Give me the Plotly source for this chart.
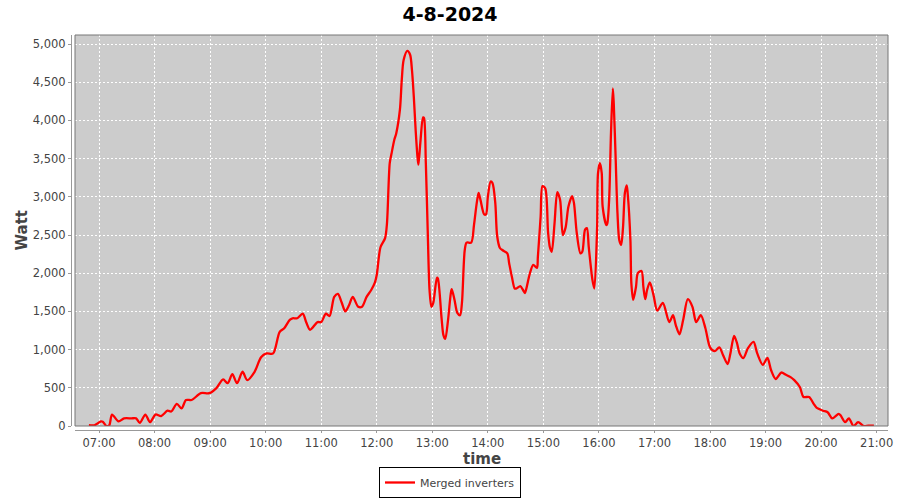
import plotly.graph_objects as go

DAY = "2024-08-04"

times = [
    "06:49", "06:55", "07:02", "07:04", "07:08", "07:11", "07:14", "07:21", "07:27", "07:35",
    "07:40", "07:44", "07:50", "07:55", "08:01", "08:07", "08:14", "08:18", "08:24", "08:29",
    "08:34", "08:40", "08:50", "08:59", "09:07", "09:14", "09:19", "09:24", "09:29", "09:35",
    "09:40", "09:48", "09:55", "10:01", "10:08", "10:15", "10:20", "10:26", "10:29", "10:34",
    "10:40", "10:44", "10:48", "10:56", "11:00", "11:05", "11:09", "11:14", "11:18", "11:22",
    "11:26", "11:30", "11:34", "11:40", "11:44", "11:49", "11:54", "11:58", "12:00", "12:04",
    "12:09", "12:11", "12:14", "12:16", "12:19", "12:21", "12:25", "12:27", "12:29", "12:33",
    "12:36", "12:38", "12:40", "12:42", "12:44", "12:45", "12:47", "12:50", "12:51", "12:53",
    "12:55", "12:57", "12:59", "13:01", "13:05", "13:06", "13:10", "13:12", "13:14", "13:17",
    "13:20", "13:21", "13:24", "13:27", "13:30", "13:32", "13:35", "13:37", "13:42", "13:45",
    "13:48", "13:50", "13:52", "13:56", "13:58", "14:00", "14:03", "14:05", "14:08", "14:10",
    "14:13", "14:16", "14:21", "14:23", "14:26", "14:29", "14:31", "14:35", "14:38", "14:40",
    "14:42", "14:45", "14:49", "14:53", "14:54", "14:57", "14:59", "15:02", "15:05", "15:07",
    "15:09", "15:12", "15:15", "15:18", "15:21", "15:24", "15:27", "15:31", "15:33", "15:36",
    "15:40", "15:42", "15:45", "15:47", "15:49", "15:53", "15:55", "15:58", "15:59", "16:01",
    "16:03", "16:04", "16:08", "16:09", "16:11", "16:13", "16:15", "16:16", "16:18", "16:20",
    "16:22", "16:24", "16:26", "16:28", "16:30", "16:31", "16:34", "16:35", "16:37", "16:40",
    "16:42", "16:46", "16:48", "16:50", "16:52", "16:55", "16:59", "17:03", "17:09", "17:16",
    "17:20", "17:23", "17:27", "17:31", "17:36", "17:41", "17:45", "17:50", "17:55", "18:00",
    "18:05", "18:10", "18:14", "18:19", "18:22", "18:26", "18:29", "18:32", "18:36", "18:41",
    "18:47", "18:51", "18:57", "19:02", "19:06", "19:11", "19:17", "19:22", "19:27", "19:31",
    "19:37", "19:41", "19:47", "19:52", "19:55", "20:02", "20:07", "20:12", "20:19", "20:21",
    "20:26", "20:30", "20:35", "20:40", "20:46", "20:51", "20:57",
]

watts = [
    10, 10, 60, 55, 0, 10, 150, 60, 100, 100,
    100, 40, 150, 50, 150, 130, 200, 190, 290, 230,
    340, 340, 430, 430, 500, 610, 560, 680, 560, 710,
    600, 710, 900, 950, 950, 1230, 1280, 1390, 1410, 1410,
    1470, 1350, 1260, 1360, 1360, 1470, 1440, 1690, 1730, 1620,
    1500, 1580, 1690, 1560, 1560, 1690, 1780, 1880, 1980, 2340,
    2460, 2650, 3440, 3570, 3750, 3830, 4140, 4530, 4790, 4910,
    4860, 4660, 4310, 3870, 3520, 3420, 3700, 4040, 4030, 3440,
    2570, 1780, 1560, 1610, 1940, 1930, 1410, 1190, 1140, 1390,
    1740, 1790, 1650, 1480, 1450, 1610, 2300, 2400, 2400, 2630,
    2920, 3050, 2960, 2770, 2770, 3000, 3200, 3180, 2920, 2490,
    2330, 2300, 2260, 2130, 1950, 1800, 1800, 1830, 1780, 1740,
    1820, 1980, 2110, 2070, 2210, 2740, 3140, 3110, 2540, 2340,
    2280, 2650, 3060, 2960, 2500, 2600, 2870, 3010, 2920, 2530,
    2260, 2280, 2570, 2590, 2340, 1910, 1800, 2600, 3310, 3440,
    3310, 2870, 2630, 2650, 2960, 3830, 4420, 4220, 3520, 2790,
    2430, 2370, 2600, 3050, 3150, 3050, 2430, 1870, 1650, 1820,
    2000, 2030, 1820, 1660, 1780, 1880, 1710, 1510, 1610, 1360,
    1450, 1320, 1200, 1390, 1660, 1560, 1360, 1450, 1280, 1030,
    980, 1030, 930, 810, 950, 1180, 1090, 950, 890, 1020,
    1100, 950, 800, 890, 730, 615, 700, 670, 640, 600,
    510, 380, 380, 290, 240, 200, 180, 100, 160, 140,
    50, 100, 0, 50, 0, 5, 5,
]

hour_ticks = ["07:00", "08:00", "09:00", "10:00", "11:00", "12:00", "13:00",
              "14:00", "15:00", "16:00", "17:00", "18:00", "19:00", "20:00", "21:00"]
y_ticks = [0, 500, 1000, 1500, 2000, 2500, 3000, 3500, 4000, 4500, 5000]

x_range = [f"{DAY} 06:34:00", f"{DAY} 21:12:15"]
y_range = [0, 5118]

FONT = "DejaVu Sans"
TXT = "#444444"

fig = go.Figure()
fig.add_trace(go.Scatter(
    x=[f"{DAY} {t}" for t in times],
    y=watts,
    mode="lines",
    name="Merged inverters",
    line=dict(color="#FF0000", width=2.3, shape="spline", smoothing=0.8),
    showlegend=True,
))

ax_w = 900 - 71 - 12
ax_h = 500 - 35 - 70
dx = 4 / ax_w
dy = 4 / ax_h

fig.update_layout(
    width=900, height=500,
    margin=dict(l=71, r=12, t=35, b=70, autoexpand=False),
    paper_bgcolor="white",
    plot_bgcolor="#CCCCCC",
    font=dict(family=FONT, size=12, color=TXT),
    title=dict(text="<b>4-8-2024</b>", x=0.5, xref="container", xanchor="center",
               y=1 - 14 / 500, yref="container", yanchor="middle",
               font=dict(family=FONT, size=19, color="#000000")),
    xaxis=dict(
        type="date",
        domain=[dx, 1],
        anchor="free", position=0,
        range=x_range,
        tickvals=[f"{DAY} {t}" for t in hour_ticks],
        ticktext=hour_ticks,
        showgrid=True, gridcolor="white", gridwidth=1, griddash="2px,2px",
        showline=True, linecolor="#999999", linewidth=1,
        ticks="outside", ticklen=2, tickcolor="#999999",
        tickfont=dict(family=FONT, size=11.5, color=TXT),
        zeroline=False, automargin=False,
    ),
    yaxis=dict(
        domain=[dy, 1],
        anchor="free", position=0,
        range=y_range,
        tickvals=y_ticks,
        tickformat=",",
        showgrid=True, gridcolor="white", gridwidth=1, griddash="2px,2px",
        showline=True, linecolor="#999999", linewidth=1,
        ticks="outside", ticklen=3, tickcolor="#999999",
        tickfont=dict(family=FONT, size=11.5, color=TXT),
        zeroline=False, automargin=False,
    ),
    legend=dict(
        orientation="h",
        xref="container", yref="container",
        x=0.5, xanchor="center",
        y=2 / 500, yanchor="bottom",
        bordercolor="#000000", borderwidth=1, bgcolor="white",
        font=dict(family=FONT, size=11, color=TXT),
        itemwidth=30,
    ),
    annotations=[
        dict(text="<b>Watt</b>", textangle=-90, xref="paper", yref="paper",
             x=-50 / ax_w, y=(0.5 + dy / 2), xanchor="center", yanchor="middle",
             showarrow=False, font=dict(family=FONT, size=15, color=TXT)),
        dict(text="<b>time</b>", xref="paper", yref="paper",
             x=(1 + dx) / 2, y=-29 / ax_h, xanchor="center", yanchor="middle",
             showarrow=False, font=dict(family=FONT, size=15, color=TXT)),
    ],
    shapes=[dict(type="rect", xref="paper", yref="paper", x0=dx, x1=1, y0=dy, y1=1,
                 line=dict(color="#777777", width=1), fillcolor="rgba(0,0,0,0)", layer="above")],
)

fig.write_html("out.html", post_script="document.body.style.margin='0';",
               config={"displayModeBar": False})
